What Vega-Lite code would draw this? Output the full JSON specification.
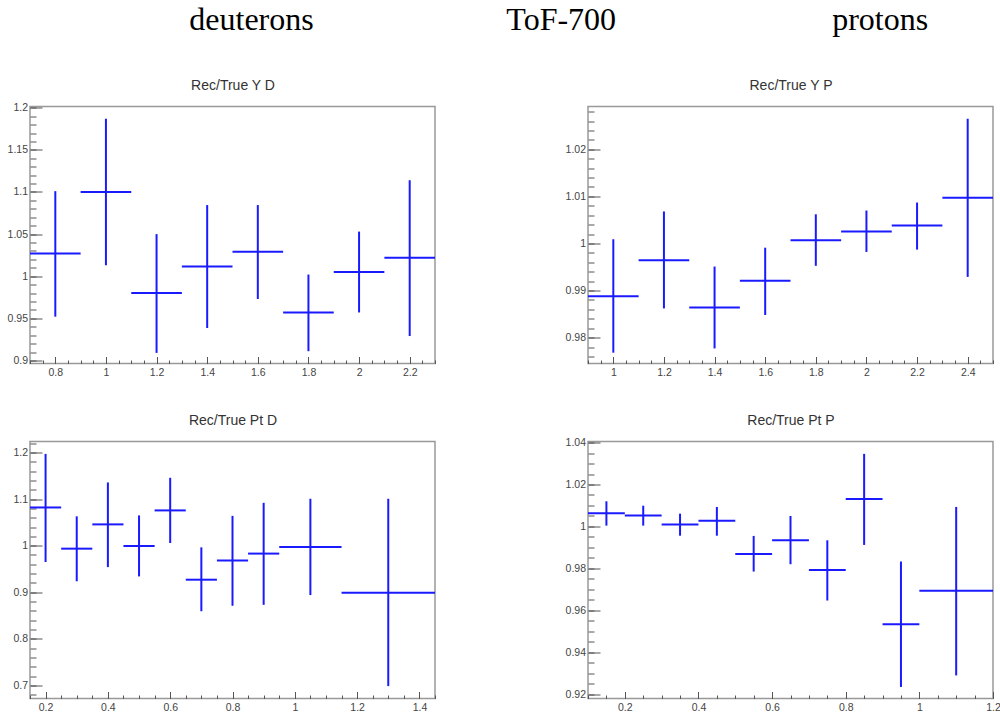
{
  "$schema": "https://vega.github.io/schema/vega-lite/v6.json",
  "background": "white",
  "padding": {"left": 6, "top": 2.5, "right": 0, "bottom": 0},
  "datasets": {
    "yd": [
      {"x": 0.8, "xlo": 0.7, "xhi": 0.9, "y": 1.027, "ylo": 0.952, "yhi": 1.101},
      {"x": 1.0, "xlo": 0.9, "xhi": 1.1, "y": 1.100, "ylo": 1.013, "yhi": 1.187},
      {"x": 1.2, "xlo": 1.1, "xhi": 1.3, "y": 0.980, "ylo": 0.909, "yhi": 1.050},
      {"x": 1.4, "xlo": 1.3, "xhi": 1.5, "y": 1.0115, "ylo": 0.9385, "yhi": 1.0845},
      {"x": 1.6, "xlo": 1.5, "xhi": 1.7, "y": 1.029, "ylo": 0.973, "yhi": 1.0845},
      {"x": 1.8, "xlo": 1.7, "xhi": 1.9, "y": 0.957, "ylo": 0.911, "yhi": 1.002},
      {"x": 2.0, "xlo": 1.9, "xhi": 2.1, "y": 1.005, "ylo": 0.957, "yhi": 1.053},
      {"x": 2.2, "xlo": 2.1, "xhi": 2.3, "y": 1.022, "ylo": 0.929, "yhi": 1.114}
    ],
    "yp": [
      {"x": 1.0, "xlo": 0.9, "xhi": 1.1, "y": 0.9888, "ylo": 0.9768, "yhi": 1.0009},
      {"x": 1.2, "xlo": 1.1, "xhi": 1.3, "y": 0.99645, "ylo": 0.9862, "yhi": 1.0068},
      {"x": 1.4, "xlo": 1.3, "xhi": 1.5, "y": 0.9864, "ylo": 0.9777, "yhi": 0.9951},
      {"x": 1.6, "xlo": 1.5, "xhi": 1.7, "y": 0.9921, "ylo": 0.9848, "yhi": 0.9991},
      {"x": 1.8, "xlo": 1.7, "xhi": 1.9, "y": 1.0007, "ylo": 0.99525, "yhi": 1.0062},
      {"x": 2.0, "xlo": 1.9, "xhi": 2.1, "y": 1.00255, "ylo": 0.9982, "yhi": 1.007},
      {"x": 2.2, "xlo": 2.1, "xhi": 2.3, "y": 1.0038, "ylo": 0.9987, "yhi": 1.0087},
      {"x": 2.4, "xlo": 2.3, "xhi": 2.5, "y": 1.0097, "ylo": 0.9929, "yhi": 1.0265}
    ],
    "ptd": [
      {"x": 0.2, "xlo": 0.15, "xhi": 0.25, "y": 1.082, "ylo": 0.965, "yhi": 1.197},
      {"x": 0.3, "xlo": 0.25, "xhi": 0.35, "y": 0.9936, "ylo": 0.9236, "yhi": 1.063},
      {"x": 0.4, "xlo": 0.35, "xhi": 0.45, "y": 1.0457, "ylo": 0.954, "yhi": 1.1357},
      {"x": 0.5, "xlo": 0.45, "xhi": 0.55, "y": 0.9993, "ylo": 0.934, "yhi": 1.065},
      {"x": 0.6, "xlo": 0.55, "xhi": 0.65, "y": 1.0757, "ylo": 1.0057, "yhi": 1.1457},
      {"x": 0.7, "xlo": 0.65, "xhi": 0.75, "y": 0.927, "ylo": 0.8593, "yhi": 0.9964},
      {"x": 0.8, "xlo": 0.75, "xhi": 0.85, "y": 0.968, "ylo": 0.871, "yhi": 1.064},
      {"x": 0.9, "xlo": 0.85, "xhi": 0.95, "y": 0.983, "ylo": 0.873, "yhi": 1.092},
      {"x": 1.05, "xlo": 0.95, "xhi": 1.15, "y": 0.997, "ylo": 0.894, "yhi": 1.1007},
      {"x": 1.3, "xlo": 1.15, "xhi": 1.45, "y": 0.899, "ylo": 0.6986, "yhi": 1.1007}
    ],
    "ptp": [
      {"x": 0.15, "xlo": 0.1, "xhi": 0.2, "y": 1.0063, "ylo": 1.0004, "yhi": 1.012},
      {"x": 0.25, "xlo": 0.2, "xhi": 0.3, "y": 1.0052, "ylo": 1.0004, "yhi": 1.0099},
      {"x": 0.35, "xlo": 0.3, "xhi": 0.4, "y": 1.0009, "ylo": 0.9956, "yhi": 1.0061},
      {"x": 0.45, "xlo": 0.4, "xhi": 0.5, "y": 1.0027, "ylo": 0.9956, "yhi": 1.0093},
      {"x": 0.55, "xlo": 0.5, "xhi": 0.6, "y": 0.9869, "ylo": 0.9785, "yhi": 0.9955},
      {"x": 0.65, "xlo": 0.6, "xhi": 0.7, "y": 0.9934, "ylo": 0.982, "yhi": 1.005},
      {"x": 0.75, "xlo": 0.7, "xhi": 0.8, "y": 0.9793, "ylo": 0.9647, "yhi": 0.9934},
      {"x": 0.85, "xlo": 0.8, "xhi": 0.9, "y": 1.0131, "ylo": 0.9912, "yhi": 1.0346},
      {"x": 0.95, "xlo": 0.9, "xhi": 1.0, "y": 0.9534, "ylo": 0.9235, "yhi": 0.9833},
      {"x": 1.1, "xlo": 1.0, "xhi": 1.2, "y": 0.9693, "ylo": 0.929, "yhi": 1.0093}
    ]
  },
  "columns": 2,
  "spacing": {"row": 78, "column": 153},
  "bounds": "flush",
  "concat": [
    {
      "width": 405, "height": 257,
      "data": {"name": "yd"},
      "layer": [
        {"mark": {"type": "rule", "color": "#1a1aff", "strokeWidth": 2},
         "encoding": {
           "x": {"field": "xlo", "type": "quantitative", "scale": {"domain": [0.7, 2.3], "nice": false, "zero": false},
                 "axis": {"orient": "bottom", "values": [0.8, 1, 1.2, 1.4, 1.6, 1.8, 2, 2.2], "format": "~g", "tickSize": -7, "labelPadding": 10.5, "title": null}},
           "x2": {"field": "xhi"},
           "y": {"field": "y", "type": "quantitative", "scale": {"domain": [0.8964, 1.2015], "nice": false, "zero": false},
                 "axis": {"orient": "left", "values": [0.9, 0.95, 1, 1.05, 1.1, 1.15, 1.2], "format": "~g", "tickSize": -12, "labelPadding": 14.5, "title": null}}
         }},
        {"mark": {"type": "rule", "color": "#1a1aff", "strokeWidth": 2},
         "encoding": {
           "x": {"field": "x", "type": "quantitative", "scale": {"domain": [0.7, 2.3], "nice": false, "zero": false},
                 "axis": {"orient": "top", "title": "Rec/True Y D", "titleX": 202.5, "titleY": -17, "titleAlign": "center", "titleBaseline": "alphabetic", "titleFont": "Liberation Sans", "titleFontSize": 14, "titleFontWeight": "normal", "titleColor": "#333333", "labels": false, "ticks": false}},
           "y": {"field": "ylo", "type": "quantitative", "scale": {"domain": [0.8964, 1.2015], "nice": false, "zero": false},
                 "axis": {"orient": "right", "title": "deuterons", "titleAngle": 0, "titleX": -184, "titleY": -76.7, "titleAlign": "center", "titleBaseline": "alphabetic", "titleFont": "Liberation Serif", "titleFontSize": 32, "titleFontWeight": "normal", "titleColor": "#000000", "labels": false, "ticks": false}},
           "y2": {"field": "yhi"}
         }},
        {"mark": {"type": "rule", "opacity": 0},
         "encoding": {
           "x": {"field": "xlo", "type": "quantitative", "scale": {"domain": [0.7, 2.3], "nice": false, "zero": false},
                 "axis": {"orient": "bottom", "labels": false, "tickSize": -3.5, "title": null,
                          "values": [0.7, 0.75, 0.8, 0.85, 0.9, 0.95, 1, 1.05, 1.1, 1.15, 1.2, 1.25, 1.3, 1.35, 1.4, 1.45, 1.5, 1.55, 1.6, 1.65, 1.7, 1.75, 1.8, 1.85, 1.9, 1.95, 2, 2.05, 2.1, 2.15, 2.2, 2.25, 2.3]}},
           "x2": {"field": "xhi"},
           "y": {"field": "y", "type": "quantitative", "scale": {"domain": [0.8964, 1.2015], "nice": false, "zero": false},
                 "axis": {"orient": "left", "labels": false, "tickSize": -6, "title": null,
                          "values": [0.9, 0.91, 0.92, 0.93, 0.94, 0.95, 0.96, 0.97, 0.98, 0.99, 1, 1.01, 1.02, 1.03, 1.04, 1.05, 1.06, 1.07, 1.08, 1.09, 1.1, 1.11, 1.12, 1.13, 1.14, 1.15, 1.16, 1.17, 1.18, 1.19, 1.2]}}
         }}
      ],
      "resolve": {"axis": {"x": "independent", "y": "independent"}}
    },
    {
      "width": 405, "height": 257,
      "data": {"name": "yp"},
      "layer": [
        {"mark": {"type": "rule", "color": "#1a1aff", "strokeWidth": 2},
         "encoding": {
           "x": {"field": "xlo", "type": "quantitative", "scale": {"domain": [0.9, 2.5], "nice": false, "zero": false},
                 "axis": {"orient": "bottom", "values": [1, 1.2, 1.4, 1.6, 1.8, 2, 2.2, 2.4], "format": "~g", "tickSize": -7, "labelPadding": 10.5, "title": null}},
           "x2": {"field": "xhi"},
           "y": {"field": "y", "type": "quantitative", "scale": {"domain": [0.9745, 1.0291], "nice": false, "zero": false},
                 "axis": {"orient": "left", "values": [0.98, 0.99, 1, 1.01, 1.02], "format": "~g", "tickSize": -12, "labelPadding": 14.5, "title": null}}
         }},
        {"mark": {"type": "rule", "color": "#1a1aff", "strokeWidth": 2},
         "encoding": {
           "x": {"field": "x", "type": "quantitative", "scale": {"domain": [0.9, 2.5], "nice": false, "zero": false},
                 "axis": {"orient": "top", "title": "Rec/True Y P", "titleX": 202.5, "titleY": -17, "titleAlign": "center", "titleBaseline": "alphabetic", "titleFont": "Liberation Sans", "titleFontSize": 14, "titleFontWeight": "normal", "titleColor": "#333333", "labels": false, "ticks": false}},
           "y": {"field": "ylo", "type": "quantitative", "scale": {"domain": [0.9745, 1.0291], "nice": false, "zero": false},
                 "axis": {"orient": "right", "title": "protons", "titleAngle": 0, "titleX": -113.3, "titleY": -76.7, "titleAlign": "center", "titleBaseline": "alphabetic", "titleFont": "Liberation Serif", "titleFontSize": 32, "titleFontWeight": "normal", "titleColor": "#000000", "labels": false, "ticks": false}},
           "y2": {"field": "yhi"}
         }},
        {"mark": {"type": "rule", "opacity": 0},
         "encoding": {
           "x": {"field": "xlo", "type": "quantitative", "scale": {"domain": [0.9, 2.5], "nice": false, "zero": false},
                 "axis": {"orient": "bottom", "labels": false, "tickSize": -3.5, "title": null,
                          "values": [0.9, 0.95, 1, 1.05, 1.1, 1.15, 1.2, 1.25, 1.3, 1.35, 1.4, 1.45, 1.5, 1.55, 1.6, 1.65, 1.7, 1.75, 1.8, 1.85, 1.9, 1.95, 2, 2.05, 2.1, 2.15, 2.2, 2.25, 2.3, 2.35, 2.4, 2.45, 2.5]}},
           "x2": {"field": "xhi"},
           "y": {"field": "y", "type": "quantitative", "scale": {"domain": [0.9745, 1.0291], "nice": false, "zero": false},
                 "axis": {"orient": "left", "labels": false, "tickSize": -6, "title": null,
                          "values": [0.976, 0.978, 0.98, 0.982, 0.984, 0.986, 0.988, 0.99, 0.992, 0.994, 0.996, 0.998, 1, 1.002, 1.004, 1.006, 1.008, 1.01, 1.012, 1.014, 1.016, 1.018, 1.02, 1.022, 1.024, 1.026, 1.028]}}
         }},
        {"mark": {"type": "rule", "opacity": 0},
         "encoding": {
           "x": {"field": "x", "type": "quantitative", "scale": {"domain": [0.9, 2.5], "nice": false, "zero": false}, "axis": null},
           "y": {"field": "y", "type": "quantitative", "scale": {"domain": [0.9745, 1.0291], "nice": false, "zero": false},
                 "axis": {"orient": "right", "title": "ToF-700", "titleAngle": 0, "titleX": -432.3, "titleY": -76.7, "titleAlign": "center", "titleBaseline": "alphabetic", "titleFont": "Liberation Serif", "titleFontSize": 32, "titleFontWeight": "normal", "titleColor": "#000000", "labels": false, "ticks": false}}
         }}
      ],
      "resolve": {"axis": {"x": "independent", "y": "independent"}}
    },
    {
      "width": 405, "height": 257,
      "data": {"name": "ptd"},
      "layer": [
        {"mark": {"type": "rule", "color": "#1a1aff", "strokeWidth": 2},
         "encoding": {
           "x": {"field": "xlo", "type": "quantitative", "scale": {"domain": [0.15, 1.45], "nice": false, "zero": false},
                 "axis": {"orient": "bottom", "values": [0.2, 0.4, 0.6, 0.8, 1, 1.2, 1.4], "format": "~g", "tickSize": -7, "labelPadding": 10.5, "title": null}},
           "x2": {"field": "xhi"},
           "y": {"field": "y", "type": "quantitative", "scale": {"domain": [0.672, 1.2236], "nice": false, "zero": false},
                 "axis": {"orient": "left", "values": [0.7, 0.8, 0.9, 1, 1.1, 1.2], "format": "~g", "tickSize": -12, "labelPadding": 14.5, "title": null}}
         }},
        {"mark": {"type": "rule", "color": "#1a1aff", "strokeWidth": 2},
         "encoding": {
           "x": {"field": "x", "type": "quantitative", "scale": {"domain": [0.15, 1.45], "nice": false, "zero": false},
                 "axis": {"orient": "top", "title": "Rec/True Pt D", "titleX": 202.5, "titleY": -17, "titleAlign": "center", "titleBaseline": "alphabetic", "titleFont": "Liberation Sans", "titleFontSize": 14, "titleFontWeight": "normal", "titleColor": "#333333", "labels": false, "ticks": false}},
           "y": {"field": "ylo", "type": "quantitative", "scale": {"domain": [0.672, 1.2236], "nice": false, "zero": false}, "axis": null},
           "y2": {"field": "yhi"}
         }},
        {"mark": {"type": "rule", "opacity": 0},
         "encoding": {
           "x": {"field": "xlo", "type": "quantitative", "scale": {"domain": [0.15, 1.45], "nice": false, "zero": false},
                 "axis": {"orient": "bottom", "labels": false, "tickSize": -3.5, "title": null,
                          "values": [0.15, 0.2, 0.25, 0.3, 0.35, 0.4, 0.45, 0.5, 0.55, 0.6, 0.65, 0.7, 0.75, 0.8, 0.85, 0.9, 0.95, 1, 1.05, 1.1, 1.15, 1.2, 1.25, 1.3, 1.35, 1.4, 1.45]}},
           "x2": {"field": "xhi"},
           "y": {"field": "y", "type": "quantitative", "scale": {"domain": [0.672, 1.2236], "nice": false, "zero": false},
                 "axis": {"orient": "left", "labels": false, "tickSize": -6, "title": null,
                          "values": [0.68, 0.7, 0.72, 0.74, 0.76, 0.78, 0.8, 0.82, 0.84, 0.86, 0.88, 0.9, 0.92, 0.94, 0.96, 0.98, 1, 1.02, 1.04, 1.06, 1.08, 1.1, 1.12, 1.14, 1.16, 1.18, 1.2, 1.22]}}
         }}
      ],
      "resolve": {"axis": {"x": "independent", "y": "independent"}}
    },
    {
      "width": 405, "height": 257,
      "data": {"name": "ptp"},
      "layer": [
        {"mark": {"type": "rule", "color": "#1a1aff", "strokeWidth": 2},
         "encoding": {
           "x": {"field": "xlo", "type": "quantitative", "scale": {"domain": [0.1, 1.2], "nice": false, "zero": false},
                 "axis": {"orient": "bottom", "values": [0.2, 0.4, 0.6, 0.8, 1, 1.2], "format": "~g", "tickSize": -7, "labelPadding": 10.5, "title": null}},
           "x2": {"field": "xhi"},
           "y": {"field": "y", "type": "quantitative", "scale": {"domain": [0.918, 1.0405], "nice": false, "zero": false},
                 "axis": {"orient": "left", "values": [0.92, 0.94, 0.96, 0.98, 1, 1.02, 1.04], "format": "~g", "tickSize": -12, "labelPadding": 14.5, "title": null}}
         }},
        {"mark": {"type": "rule", "color": "#1a1aff", "strokeWidth": 2},
         "encoding": {
           "x": {"field": "x", "type": "quantitative", "scale": {"domain": [0.1, 1.2], "nice": false, "zero": false},
                 "axis": {"orient": "top", "title": "Rec/True Pt P", "titleX": 202.5, "titleY": -17, "titleAlign": "center", "titleBaseline": "alphabetic", "titleFont": "Liberation Sans", "titleFontSize": 14, "titleFontWeight": "normal", "titleColor": "#333333", "labels": false, "ticks": false}},
           "y": {"field": "ylo", "type": "quantitative", "scale": {"domain": [0.918, 1.0405], "nice": false, "zero": false}, "axis": null},
           "y2": {"field": "yhi"}
         }},
        {"mark": {"type": "rule", "opacity": 0},
         "encoding": {
           "x": {"field": "xlo", "type": "quantitative", "scale": {"domain": [0.1, 1.2], "nice": false, "zero": false},
                 "axis": {"orient": "bottom", "labels": false, "tickSize": -3.5, "title": null,
                          "values": [0.1, 0.15, 0.2, 0.25, 0.3, 0.35, 0.4, 0.45, 0.5, 0.55, 0.6, 0.65, 0.7, 0.75, 0.8, 0.85, 0.9, 0.95, 1, 1.05, 1.1, 1.15, 1.2]}},
           "x2": {"field": "xhi"},
           "y": {"field": "y", "type": "quantitative", "scale": {"domain": [0.918, 1.0405], "nice": false, "zero": false},
                 "axis": {"orient": "left", "labels": false, "tickSize": -6, "title": null,
                          "values": [0.92, 0.925, 0.93, 0.935, 0.94, 0.945, 0.95, 0.955, 0.96, 0.965, 0.97, 0.975, 0.98, 0.985, 0.99, 0.995, 1, 1.005, 1.01, 1.015, 1.02, 1.025, 1.03, 1.035, 1.04]}}
         }}
      ],
      "resolve": {"axis": {"x": "independent", "y": "independent"}}
    }
  ],
  "config": {
    "view": {"stroke": "#999999", "strokeWidth": 1.5},
    "axis": {"domain": false, "grid": false, "labelFont": "Liberation Sans", "labelFontSize": 10.5, "labelColor": "#444444", "tickColor": "#555555", "tickWidth": 1, "labelFlush": false, "labelOverlap": false}
  }
}
